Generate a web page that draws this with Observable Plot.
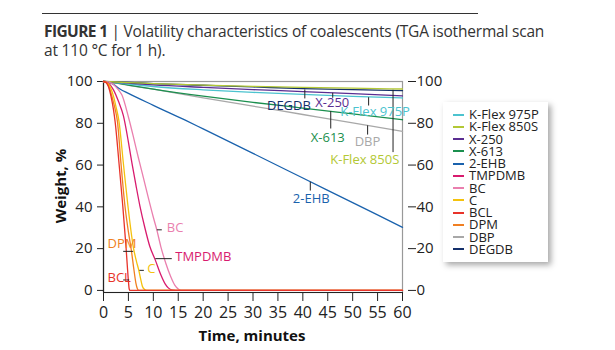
<!DOCTYPE html>
<html>
<head>
<meta charset="utf-8">
<script src="https://cdn.jsdelivr.net/npm/d3@7"></script>
<script src="https://cdn.jsdelivr.net/npm/@observablehq/plot@0.6"></script>
<style>
  html, body { margin: 0; padding: 0; background: #fff; }
  #fig { position: relative; width: 615px; height: 350px; overflow: hidden; font-family: "Open Sans", sans-serif; color: #222; }
  #rule { position: absolute; left: 42px; top: 13px; width: 436px; height: 0; border-top: 1.3px solid #333; }
  #title { position: absolute; left: 44px; top: 22px; font-size: 15.5px; line-height: 19px; color: #333; letter-spacing: -0.2px; white-space: nowrap; }
  #title b { font-weight: 700; letter-spacing: -0.6px; }
  #chart { position: absolute; left: 0; top: 70px; }
  .axt { position: absolute; font-weight: 700; font-size: 15px; color: #111; white-space: nowrap; }
  #xlab { left: 252px; top: 335px; transform: translate(-50%, -50%); }
  #ylab { left: 60px; top: 186px; transform: translate(-50%, -50%) rotate(-90deg); }
  #legend { position: absolute; left: 443px; top: 102px; width: 105px; height: 160px; background: #fff; box-shadow: 3px 3px 6px rgba(0,0,0,0.35); }
  .li { position: absolute; left: 10px; height: 12px; font-size: 13px; line-height: 12px; white-space: nowrap; }
  .li span.sw { display: inline-block; width: 11px; height: 2px; vertical-align: middle; margin-right: 5px; position: relative; top: -1px; }
</style>
</head>
<body>
<div id="fig">
  <div id="rule"></div>
  <div id="title"><b>FIGURE 1</b> | Volatility characteristics of coalescents (TGA isothermal scan<br>at 110 °C for 1 h).</div>
  <div id="chart"></div>
  <div class="axt" id="xlab">Time, minutes</div>
  <div class="axt" id="ylab">Weight, %</div>
  <div id="legend"></div>
</div>
<script>
// ---- series (legend order) ----
const seriesNames = ["K-Flex 975P", "K-Flex 850S", "X-250", "X-613", "2-EHB", "TMPDMB", "BC", "C", "BCL", "DPM", "DBP", "DEGDB"];
const seriesColors = ["#4cc3cf", "#b3c835", "#5a2d91", "#1b8f4e", "#1a62ad", "#d81b6e", "#ea7fae", "#f4c20d", "#e8332a", "#f07f22", "#a8a8a8", "#14306b"];

// ---- [time (min), weight (%)] readings per series ----
const kflex975P = [[0,100],[2,99.6],[5,98.8],[10,97.6],[20,96],[30,94.8],[40,93.8],[50,92.9],[60,92.1]];
const kflex850S = [[0,100],[5,99.5],[10,99],[20,98.3],[30,97.7],[40,97.2],[50,96.8],[60,96.4]];
const x250 = [[0,100],[5,99.2],[10,98.4],[20,97.2],[30,96.1],[40,95.2],[50,94.2],[60,93.1]];
const x613 = [[0,100],[2,99.5],[5,98.3],[10,96.4],[20,93],[30,90],[40,87.3],[50,84.5],[60,81.7]];
const ehb2 = [[0,100],[1,99.6],[2,98.6],[3.3,96.4],[5,94.3],[10,88.6],[16.3,81.6],[20,77.3],[30,65.6],[40,53.8],[50,42],[60,30.2]];
const tmpdmb = [[0,100],[1,99.2],[2,96],[3,90.5],[4,83.5],[5,71],[5.7,61],[6.5,50.5],[7.3,40.5],[8.3,30],[9.3,21],[10.4,14.5],[11.5,7.5],[12.4,3],[13,1.2],[13.7,0.2],[14.5,0],[60,0]];
const bc = [[0,100],[1,99.7],[2,98.6],[3,96],[3.7,93.5],[5,83],[6,73.5],[7,63.5],[8,54],[9,44.3],[10,35],[10.7,29],[11.5,21],[12.5,13],[13.5,6.5],[14.3,2.5],[15,0.7],[15.6,0],[60,0]];
const cc = [[0,100],[0.5,99.7],[1,98.8],[1.5,96.5],[2,93],[2.5,88],[3.1,81],[4,60.5],[4.9,40.5],[6,20.5],[6.6,14],[7.1,9.5],[7.5,5],[7.8,2],[8.2,0.5],[8.7,0],[60,0]];
const bcl = [[0,100],[0.5,99.5],[1,97.5],[1.5,93],[2,86.5],[2.33,80.8],[3.13,60.4],[3.87,40.4],[4.53,20.4],[4.8,11],[5,4.5],[5.15,0.8],[5.3,0],[60,0]];
const dpm = [[0,100],[0.5,99.5],[1,98],[1.5,94.5],[2,90],[2.4,86],[2.8,80.8],[3.5,61],[4.3,40.5],[5,28],[5.6,19],[6.1,10],[6.5,3.5],[6.8,0.8],[7.1,0],[60,0]];
const dbp = [[0,100],[2,99.4],[5,98.2],[10,96.3],[20,92.2],[30,88.2],[40,84.2],[50,80.2],[60,76.1]];
const degdb = [[0,100],[5,99.6],[10,99],[20,98.2],[30,97.4],[40,96.6],[50,96.1],[60,95.6]];

const seriesData = {"K-Flex 975P": kflex975P, "K-Flex 850S": kflex850S, "X-250": x250, "X-613": x613, "2-EHB": ehb2, "TMPDMB": tmpdmb, "BC": bc, "C": cc, "BCL": bcl, "DPM": dpm, "DBP": dbp, "DEGDB": degdb};
const drawOrder = ["DBP", "X-613", "K-Flex 975P", "X-250", "DEGDB", "K-Flex 850S", "2-EHB", "BC", "TMPDMB", "C", "DPM", "BCL"];

// ---- axis ticks ----
const xTicks = [0,5,10,15,20,25,30,35,40,45,50,55,60];
const yTicks = [0,20,40,60,80,100];

// ---- in-plot labels (left edge time, weight) and leader lines ----
const labelNames = ["DEGDB", "X-250", "K-Flex 975P", "X-613", "DBP", "K-Flex 850S", "2-EHB", "BC", "TMPDMB", "C", "DPM", "BCL"];
const labelT = [32.8, 42.5, 47.5, 41.6, 50.4, 45.5, 38.0, 12.7, 14.4, 8.8, 0.8, 0.8];
const labelW = [88.5, 89.6, 85.3, 72.9, 71.3, 62.5, 43.9, 29.8, 15.9, 10.4, 22.3, 6.1];
const leaderT1 = [40.4, 46, 53.2, 45.6, 53, 58.1, 41.5, 10.7, 10.4, 7.2, 3.95, 3.95];
const leaderW1 = [96.2, 94.6, 92.5, 85.8, 79, 96, 52, 29, 15.2, 9.6, 18.7, 5];
const leaderT2 = [40.4, 46, 53.2, 45.6, 53, 58.1, 41.5, 11.7, 13.7, 8.1, 5.96, 5.16];
const leaderW2 = [91.9, 92.2, 88.5, 77.5, 74.6, 66.2, 47.8, 29, 15.2, 9.6, 18.7, 5];

const points = drawOrder.flatMap(name => seriesData[name].map(([t, w]) => ({name, t, w})));
const labels = labelNames.map((name, i) => ({name, t: labelT[i], w: labelW[i]}));
const leaders = labelNames.map((name, i) => ({t1: leaderT1[i], w1: leaderW1[i], t2: leaderT2[i], w2: leaderW2[i]}));

const plot = Plot.plot({
  width: 615,
  height: 280,
  marginLeft: 103,
  marginRight: 213,
  marginTop: 11,
  marginBottom: 58,
  style: {fontFamily: "Open Sans, sans-serif", fontSize: "15px", color: "#222", background: "transparent", overflow: "visible"},
  x: {domain: [0, 60]},
  y: {domain: [-1, 100]},
  color: {domain: seriesNames, range: seriesColors},
  marks: [
    Plot.frame({stroke: "#999", strokeWidth: 1.2}),
    Plot.axisX({ticks: xTicks, tickSize: 9, tickPadding: 5, label: null, stroke: "#222", fontSize: 16}),
    Plot.axisY({ticks: yTicks, anchor: "left", tickSize: 6, tickPadding: 5, label: null, stroke: "#222", fontSize: 15}),
    Plot.axisY({ticks: yTicks, anchor: "right", tickSize: 8, tickPadding: 1, dx: 5, label: null, stroke: "#222", fontSize: 15}),
    Plot.ruleX([0], {stroke: "#222", strokeWidth: 1.2}),
    Plot.ruleY([-1], {stroke: "#222", strokeWidth: 1.2}),
    Plot.line(points, {x: "t", y: "w", z: "name", stroke: "name", curve: "monotone-x", strokeWidth: 1.3}),
    Plot.link(leaders, {x1: "t1", y1: "w1", x2: "t2", y2: "w2", stroke: "#222", strokeWidth: 1}),
    Plot.text(labels, {x: "t", y: "w", text: "name", fill: "name", textAnchor: "start", fontSize: 13})
  ]
});
document.getElementById("chart").appendChild(plot);

// ---- legend ----
const legend = document.getElementById("legend");
seriesNames.forEach((name, i) => {
  const row = document.createElement("div");
  row.className = "li";
  row.style.top = (6 + i * 12.25) + "px";
  row.innerHTML = `<span class="sw" style="background:${seriesColors[i]}"></span>${name}`;
  legend.appendChild(row);
});
</script>
</body>
</html>
